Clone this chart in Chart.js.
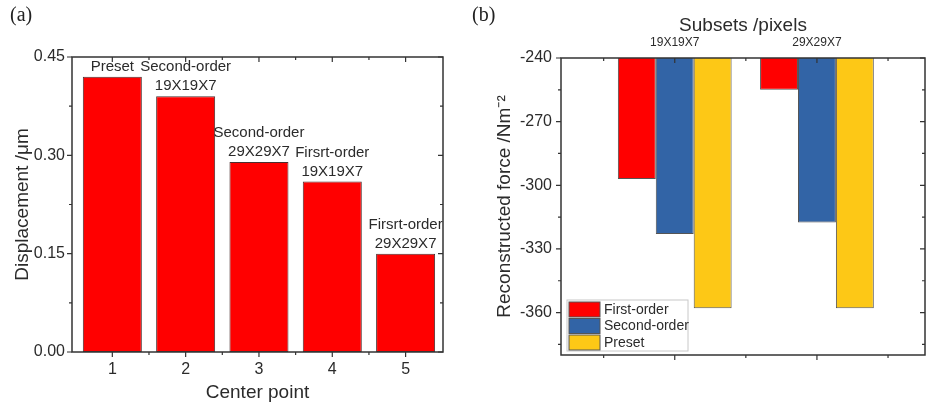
<!DOCTYPE html>
<html>
<head>
<meta charset="UTF-8">
<title>Displacement and reconstructed force</title>
<script src="https://cdn.jsdelivr.net/npm/chart.js@4.4.1/dist/chart.umd.min.js"></script>
<style>
    body { margin: 0; background: #fff; }
    #wrap { position: relative; width: 926px; height: 405px; overflow: hidden; }
    #chartA { position: absolute; left: 0; top: 0; }
    #chartB { position: absolute; left: 465px; top: 0; }
    .tag { position: absolute; top: 3px; font-family: "Liberation Serif", serif; font-size: 20px; color: #222; }
</style>
</head>
<body>
<div id="wrap">
    <canvas id="chartA" width="465" height="405"></canvas>
    <canvas id="chartB" width="461" height="405"></canvas>
    <div class="tag" style="left:10px">(a)</div>
    <div class="tag" style="left:472px">(b)</div>
</div>
<script>
// (a) displacement per center point
var centerPoints = [1, 2, 3, 4, 5];
var displacement = [0.42, 0.39, 0.29, 0.26, 0.15];
var barNotes = [
    ['Preset'],
    ['Second-order', '19X19X7'],
    ['Second-order', '29X29X7'],
    ['Firsrt-order', '19X19X7'],
    ['Firsrt-order', '29X29X7']
];
var yTicksA = [0, 0.15, 0.30, 0.45];
var yMinorA = [0.075, 0.225, 0.375];
var xMinorA = [1.5, 2.5, 3.5, 4.5];

// (b) reconstructed force per subset size
var subsetPos = [1, 2];
var subsetNames = ['19X19X7', '29X29X7'];
var firstOrder = [-297, -255];
var secondOrder = [-323, -317.5];
var preset = [-358, -358];
var yTicksB = [-360, -330, -300, -270, -240];
var yMinorB = [-375, -345, -315, -285, -255];
var xMinorB = [0.5, 1.5, 2.5];

Chart.defaults.font.family = '"Liberation Sans", Arial, sans-serif';
Chart.defaults.color = '#2b2b2b';

// box around the plot with ticks on all four sides
function makeFrame(xMajor, xMinor, yMajor, yMinor) {
    return {
        id: 'frame',
        afterDraw: function (chart) {
            var a = chart.chartArea, ctx = chart.ctx;
            var x = chart.scales.x, y = chart.scales.y;
            ctx.save();
            ctx.strokeStyle = '#333';
            ctx.lineWidth = 1.5;
            ctx.strokeRect(a.left, a.top, a.right - a.left, a.bottom - a.top);
            ctx.lineWidth = 1.2;
            function tx(v, len) {
                var p = x.getPixelForValue(v);
                ctx.beginPath();
                ctx.moveTo(p, a.bottom); ctx.lineTo(p, a.bottom + len);
                ctx.moveTo(p, a.top); ctx.lineTo(p, a.top + len);
                ctx.stroke();
            }
            function ty(v, len) {
                var p = y.getPixelForValue(v);
                ctx.beginPath();
                ctx.moveTo(a.left, p); ctx.lineTo(a.left - len, p);
                ctx.moveTo(a.right, p); ctx.lineTo(a.right - len, p);
                ctx.stroke();
            }
            xMajor.forEach(function (v) { tx(v, 5); });
            xMinor.forEach(function (v) { tx(v, 3); });
            yMajor.forEach(function (v) { ty(v, 5); });
            yMinor.forEach(function (v) { ty(v, 3); });
            ctx.restore();
        }
    };
}

var notesPlugin = {
    id: 'notes',
    afterDatasetsDraw: function (chart) {
        var ctx = chart.ctx;
        var meta = chart.getDatasetMeta(0);
        ctx.save();
        ctx.font = '15px "Liberation Sans", Arial, sans-serif';
        ctx.fillStyle = '#2b2b2b';
        ctx.textAlign = 'center';
        ctx.textBaseline = 'alphabetic';
        meta.data.forEach(function (bar, i) {
            var lines = barNotes[i];
            for (var j = 0; j < lines.length; j++) {
                var yy = bar.y - 6 - (lines.length - 1 - j) * 19;
                ctx.fillText(lines[j], bar.x, yy);
            }
        });
        ctx.restore();
    }
};

var legendPlugin = {
    id: 'boxLegend',
    afterDraw: function (chart) {
        var ctx = chart.ctx, a = chart.chartArea;
        var bx = a.left + 6, by = a.bottom - 55, bw = 121, bh = 51;
        ctx.save();
        ctx.strokeStyle = '#c8c8c8';
        ctx.lineWidth = 1;
        ctx.strokeRect(bx, by, bw, bh);
        ctx.font = '14px "Liberation Sans", Arial, sans-serif';
        ctx.textBaseline = 'middle';
        chart.data.datasets.forEach(function (ds, i) {
            var ry = by + 2 + i * 16.5;
            ctx.fillStyle = ds.backgroundColor;
            ctx.fillRect(bx + 2, ry, 31, 15);
            ctx.strokeStyle = '#555';
            ctx.strokeRect(bx + 2, ry, 31, 15);
            ctx.fillStyle = '#2b2b2b';
            ctx.fillText(ds.label, bx + 37, ry + 8);
        });
        ctx.restore();
    }
};

new Chart(document.getElementById('chartA'), {
    type: 'bar',
    data: {
        datasets: [{
            label: 'Displacement',
            data: centerPoints.map(function (c, i) { return {x: c, y: displacement[i]}; }),
            backgroundColor: '#ff0000',
            borderColor: '#4a3030',
            borderWidth: 1,
            borderSkipped: false,
            categoryPercentage: 1,
            barPercentage: 0.805
        }]
    },
    options: {
        responsive: false,
        animation: false,
        layout: {padding: {left: 0, right: 22, top: 57, bottom: 0}},
        plugins: {legend: {display: false}, tooltip: {enabled: false}},
        scales: {
            x: {
                type: 'linear', min: 0.45, max: 5.51, offset: false,
                grid: {display: false, drawTicks: false}, border: {display: false},
                afterBuildTicks: function (s) { s.ticks = centerPoints.map(function (v) { return {value: v}; }); },
                ticks: {padding: 8, font: {size: 16}, callback: function (v) { return v; }},
                title: {display: true, text: 'Center point', font: {size: 19}, padding: {top: 0, bottom: 1}},
                afterFit: function (s) { s.height = 53; }
            },
            y: {
                min: 0, max: 0.45,
                grid: {display: false, drawTicks: false}, border: {display: false},
                afterBuildTicks: function (s) { s.ticks = yTicksA.map(function (v) { return {value: v}; }); },
                ticks: {padding: 7, font: {size: 16}, callback: function (v) { return v.toFixed(2); }},
                title: {display: true, text: 'Displacement /μm', font: {size: 19}, padding: {top: 11, bottom: 0}},
                afterFit: function (s) { s.width = 72; }
            }
        }
    },
    plugins: [notesPlugin, makeFrame(centerPoints, xMinorA, yTicksA, yMinorA)]
});

function pts(vals) {
    return subsetPos.map(function (p, i) { return {x: p, y: vals[i]}; });
}

new Chart(document.getElementById('chartB'), {
    type: 'bar',
    data: {
        datasets: [
            {label: 'First-order', data: pts(firstOrder), backgroundColor: '#ff0000'},
            {label: 'Second-order', data: pts(secondOrder), backgroundColor: '#3264a6'},
            {label: 'Preset', data: pts(preset), backgroundColor: '#fdc816'}
        ].map(function (d) {
            d.base = -240;
            d.borderColor = '#555';
            d.borderWidth = 1;
            d.categoryPercentage = 0.8;
            d.barPercentage = 1;
            return d;
        })
    },
    options: {
        responsive: false,
        animation: false,
        layout: {padding: {left: 0, right: 1, top: 0, bottom: 50}},
        plugins: {legend: {display: false}, tooltip: {enabled: false}},
        scales: {
            x: {
                type: 'linear', position: 'top', min: 0.2, max: 2.76, offset: false,
                grid: {display: false, drawTicks: false}, border: {display: false},
                afterBuildTicks: function (s) { s.ticks = subsetPos.map(function (v) { return {value: v}; }); },
                ticks: {padding: 8, font: {size: 12}, callback: function (v) {
                    var i = subsetPos.indexOf(v);
                    return i >= 0 ? subsetNames[i] : '';
                }},
                title: {display: true, text: 'Subsets /pixels', font: {size: 19}, padding: {top: 14, bottom: 0}},
                afterFit: function (s) { s.height = 58; }
            },
            y: {
                min: -380, max: -240,
                grid: {display: false, drawTicks: false}, border: {display: false},
                afterBuildTicks: function (s) { s.ticks = yTicksB.map(function (v) { return {value: v}; }); },
                ticks: {padding: 9, font: {size: 16}},
                title: {display: true, text: 'Reconstructed force /Nm⁻²', font: {size: 19}, padding: {top: 28, bottom: 0}},
                afterFit: function (s) { s.width = 96; }
            }
        }
    },
    plugins: [legendPlugin, makeFrame(subsetPos, xMinorB, yTicksB, yMinorB)]
});
</script>
</body>
</html>
